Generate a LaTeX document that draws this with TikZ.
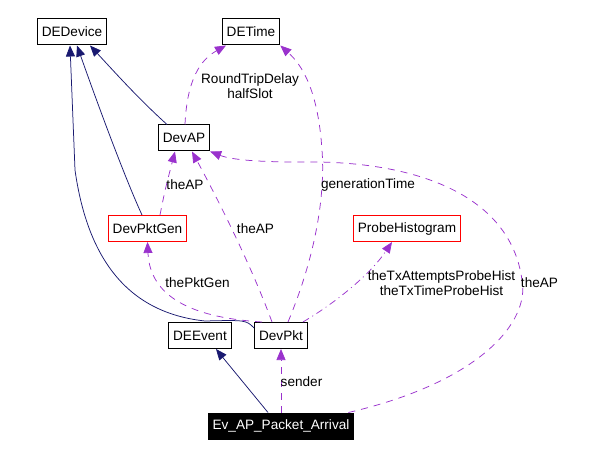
\documentclass[tikz,border=0pt]{standalone}
\usepackage{fontspec}
\setmainfont{Liberation Sans}
\usetikzlibrary{arrows.meta}

\definecolor{inhcol}{HTML}{191970}
\definecolor{usecol}{HTML}{9A32CD}
\definecolor{clsred}{HTML}{FF0000}

\tikzset{
  cls/.style={draw, line width=1pt, minimum height=26pt, inner xsep=4.5pt, inner ysep=0pt, fill=white},
  inherit/.style={draw=inhcol, line width=0.75pt, -{Triangle[length=11pt,width=9pt]}, inhcol},
  uses/.style={draw=usecol, line width=0.75pt, dash pattern=on 7pt off 6pt, -{Triangle[length=11pt,width=9pt]}, usecol},
  usesdot/.style={uses, dash pattern=on 7pt off 4pt on 1pt off 4pt},
  lbl/.style={align=center, inner sep=0pt}
}

\begin{document}
\begin{tikzpicture}[x=1pt, y=-1pt, font=\fontsize{13.6}{15.5}\selectfont]
    \useasboundingbox (0,0) rectangle (610,457);

    % classes
    \node[cls] (dedevice) at (72,32) {DEDevice};
    \node[cls] (detime) at (251,32) {DETime};
    \node[cls] (devap) at (184,138) {DevAP};
    \node[cls, draw=clsred] (devpktgen) at (147.5,228.5) {DevPktGen};
    \node[cls, draw=clsred] (probehist) at (407,228.5) {ProbeHistogram};
    \node[cls] (deevent) at (200,335.5) {DEEvent};
    \node[cls] (devpkt) at (281,335.5) {DevPkt};
    \node[cls, fill=black, text=white] (evarrival) at (281,426) {Ev\_AP\_Packet\_Arrival};

    % inheritance
    \draw[inherit] ([xshift=-17pt]devap.north) .. controls (140,100) and (120,78) .. ([xshift=18pt]dedevice.south);
    \draw[inherit] ([xshift=-5.5pt]devpktgen.north) .. controls (125,178) and (98,105) .. ([xshift=5pt]dedevice.south);
    \draw[inherit] ([yshift=7.5pt]devpkt.west) .. controls (246,320) .. (205,321)
        .. controls (130,313) and (88,262) .. (75,170) -- ([xshift=-2pt]dedevice.south);
    \draw[inherit] ([xshift=-13pt]evarrival.north) .. controls (245,385) .. ([xshift=16pt]deevent.south);

    % usage
    \draw[uses] ([xshift=1pt]devap.north) .. controls (187,80) and (200,60) .. ([xshift=-25pt]detime.south);
    \draw[uses] ([xshift=7pt]devpkt.north) .. controls (318,250) and (325,190) .. (322,150)
        .. controls (318,90) and (302,65) .. (detime.south east);
    \draw[uses] ([xshift=12.5pt]devpktgen.north) .. controls (165,190) .. ([xshift=-9pt]devap.south);
    \draw[uses] ([xshift=-9pt]devpkt.north) .. controls (250,262) and (214,192) .. ([xshift=8pt]devap.south);
    \draw[uses] ([xshift=-6pt]evarrival.north east) .. controls (480,382) and (530,322) .. (522,280)
        .. controls (510,192) and (410,160) .. (300,162) .. controls (260,162) and (232,160) .. (devap.south east);
    \draw[uses] ([xshift=8pt]devpkt.north west) .. controls (198,318) and (150,300) .. (devpktgen.south);
    \draw[usesdot] ([xshift=-5pt]devpkt.north east) .. controls (340,300) and (372,272) .. ([xshift=-15pt]probehist.south);
    \draw[uses] (evarrival.north) -- (devpkt.south);

    % labels
    \node[lbl] (lbldelay) at (250,86) {RoundTripDelay\\halfSlot};
    \node[lbl] (lblgentime) at (368,185) {generationTime};
    \node[lbl] (lblapone) at (185,185) {theAP};
    \node[lbl] (lblaptwo) at (255.5,229) {theAP};
    \node[lbl] (lblpktgen) at (197.5,283) {thePktGen};
    \node[lbl] (lblprobe) at (441.5,283) {theTxAttemptsProbeHist\\theTxTimeProbeHist};
    \node[lbl] (lblapthree) at (539.5,283) {theAP};
    \node[lbl] (lblsender) at (301.5,382) {sender};
\end{tikzpicture}
\end{document}
